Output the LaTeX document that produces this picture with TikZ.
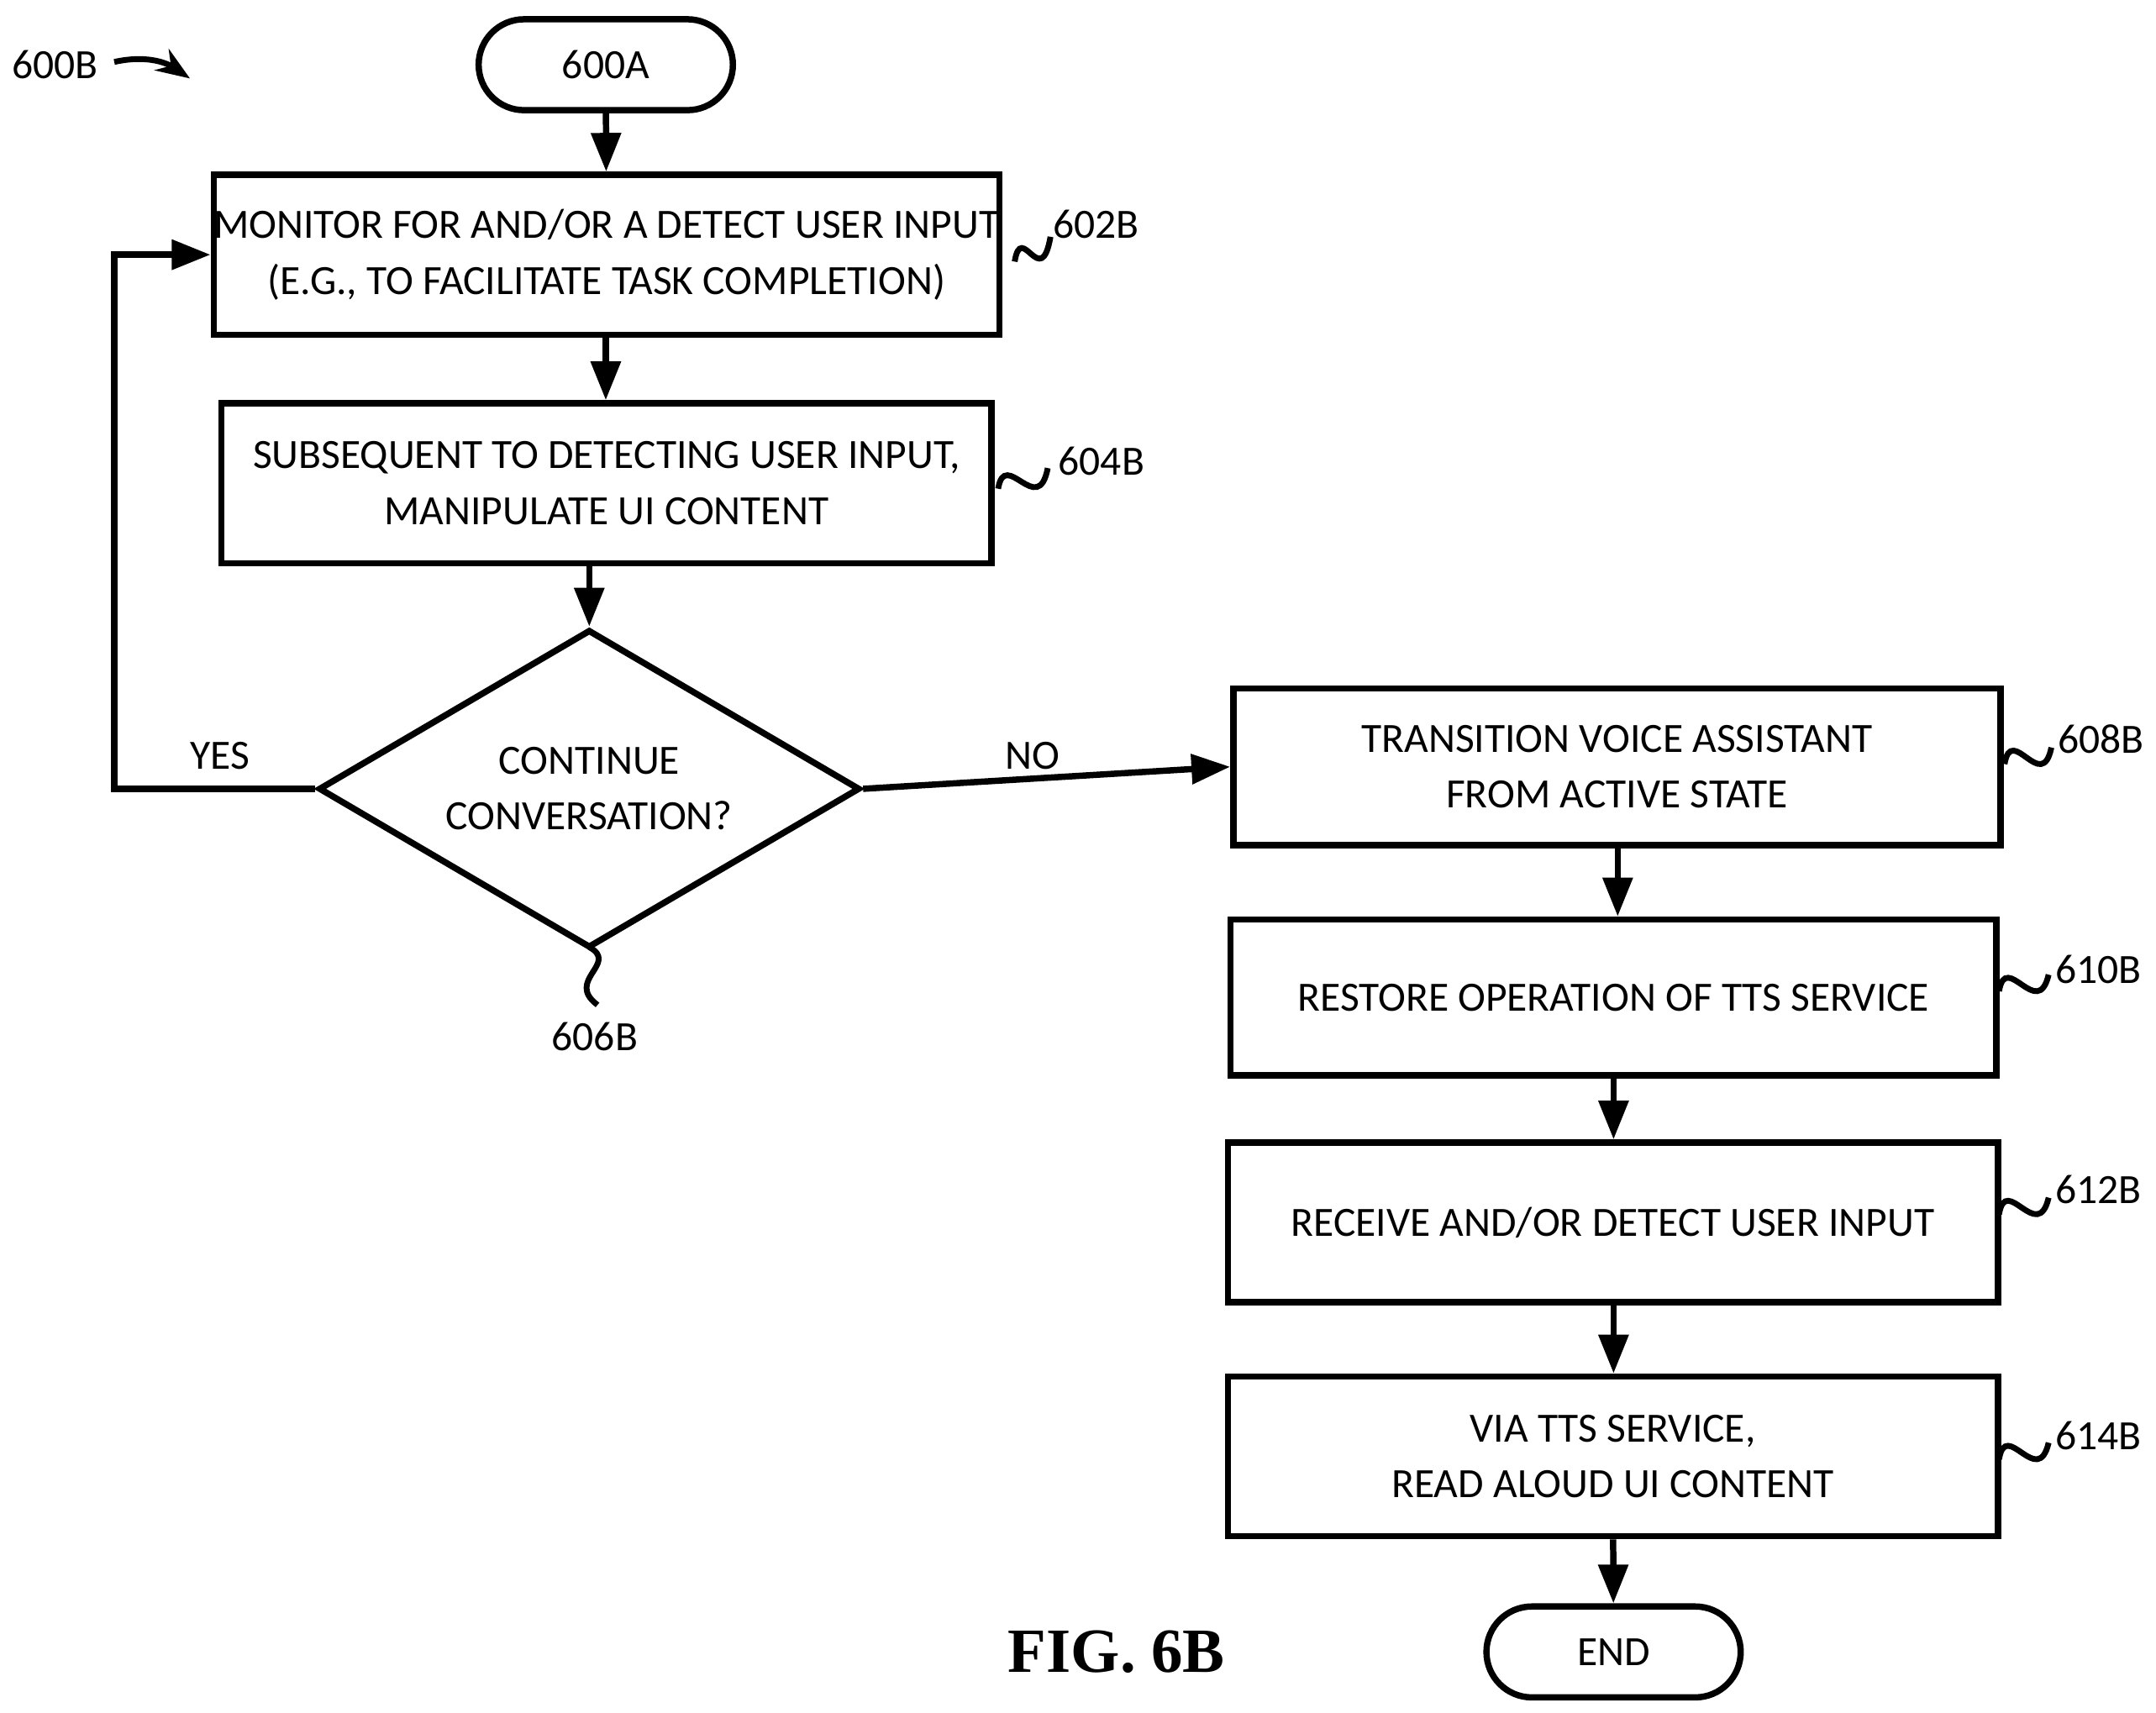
\documentclass[tikz,border=0pt]{standalone}
\usepackage{fontspec}
\setmainfont{Carlito}
\newfontfamily\figfont{Liberation Serif}
\usetikzlibrary{shapes.geometric,shapes.misc,arrows.meta}
\begin{document}
\begin{tikzpicture}[x=0.01cm,y=-0.01cm,
  box/.style={draw,line width=1.3pt,rectangle,align=center,font=\fontsize{8.6pt}{11.5pt}\selectfont,inner sep=0pt},
  term/.style={draw,line width=1.3pt,rounded rectangle,minimum width=2.08cm,minimum height=0.66cm,font=\fontsize{8.6pt}{11pt}\selectfont},
  arr/.style={line width=1.3pt,-{Triangle[length=8pt,width=6pt]}},
  sq/.style={line width=1.2pt},
  lab/.style={font=\fontsize{8.6pt}{11pt}\selectfont}]
\useasboundingbox (0,0) rectangle (1566,1244);
\node[term] (s) at (440,47) {600A};
\node[box,minimum width=5.59cm,minimum height=1.16cm] (b602) at (440.5,185) {MONITOR FOR AND/OR A DETECT USER INPUT\\(E.G., TO FACILITATE TASK COMPLETION)};
\node[box,minimum width=5.59cm,minimum height=1.16cm] (b604) at (440.5,351) {SUBSEQUENT TO DETECTING USER INPUT,\\MANIPULATE UI CONTENT};
\node[draw,line width=1.3pt,diamond,aspect=1.7,minimum width=3.93cm,minimum height=2.31cm,inner sep=0pt,align=center,font=\fontsize{8.6pt}{11.5pt}\selectfont] (d) at (428,573) {CONTINUE\\CONVERSATION?};
\node[box,minimum width=5.57cm,minimum height=1.14cm] (b608) at (1174.5,557) {TRANSITION VOICE ASSISTANT\\FROM ACTIVE STATE};
\node[box,minimum width=5.56cm,minimum height=1.13cm] (b610) at (1172,724.5) {RESTORE OPERATION OF TTS SERVICE};
\node[box,minimum width=5.59cm,minimum height=1.16cm] (b612) at (1171.5,888) {RECEIVE AND/OR DETECT USER INPUT};
\node[box,minimum width=5.59cm,minimum height=1.16cm] (b614) at (1171.5,1058) {VIA TTS SERVICE,\\READ ALOUD UI CONTENT};
\node[term] (e) at (1172,1200) {END};
\node[font=\figfont\bfseries\fontsize{13pt}{15pt}\selectfont] (fig) at (811,1200) {FIG. 6B};
\node[lab] (l600) at (40,47) {600B};
\draw[line width=1.2pt,-{Stealth[length=7pt]}] (83,45) .. controls (105,40) and (120,45) .. (138,57);
\draw[arr] (s) -- (b602);
\draw[arr] (b602.south -| 440,0) -- (b604.north -| 440,0);
\draw[arr] (b604.south -| 428,0) -- (d.north);
\draw[arr] (d.west) -- (83,573) -- (83,185) -- (b602.west);
\draw[arr] (d.east) -- (b608.west);
\draw[arr] (b608.south -| 1175,0) -- (b610.north -| 1175,0);
\draw[arr] (b610.south -| 1172,0) -- (b612.north -| 1172,0);
\draw[arr] (b612.south -| 1172,0) -- (b614.north -| 1172,0);
\draw[arr] (b614) -- (e);
\node[lab] (yes) at (160,549) {YES};
\node[lab] (no) at (750,549) {NO};
\node[lab] (n602) at (796,163) {602B};
\node[lab] (n604) at (800,335) {604B};
\node[lab] (n606) at (432,753) {606B};
\node[lab] (n608) at (1526,537) {608B};
\node[lab] (n610) at (1524,704) {610B};
\node[lab] (n612) at (1524,864) {612B};
\node[lab] (n614) at (1524,1043) {614B};
\draw[sq] (737,190) .. controls (742,160) and (756,212) .. (763,172);
\draw[sq] (725,355) .. controls (730,325) and (754,377) .. (761,340);
\draw[sq] (428,688) .. controls (450,700) and (410,712) .. (434,730);
\draw[sq] (1456,555) .. controls (1461,525) and (1483,577) .. (1490,543);
\draw[sq] (1452,720) .. controls (1457,690) and (1480,742) .. (1488,708);
\draw[sq] (1452,882) .. controls (1457,852) and (1480,904) .. (1488,870);
\draw[sq] (1452,1060) .. controls (1457,1030) and (1480,1082) .. (1488,1048);
\end{tikzpicture}
\end{document}
